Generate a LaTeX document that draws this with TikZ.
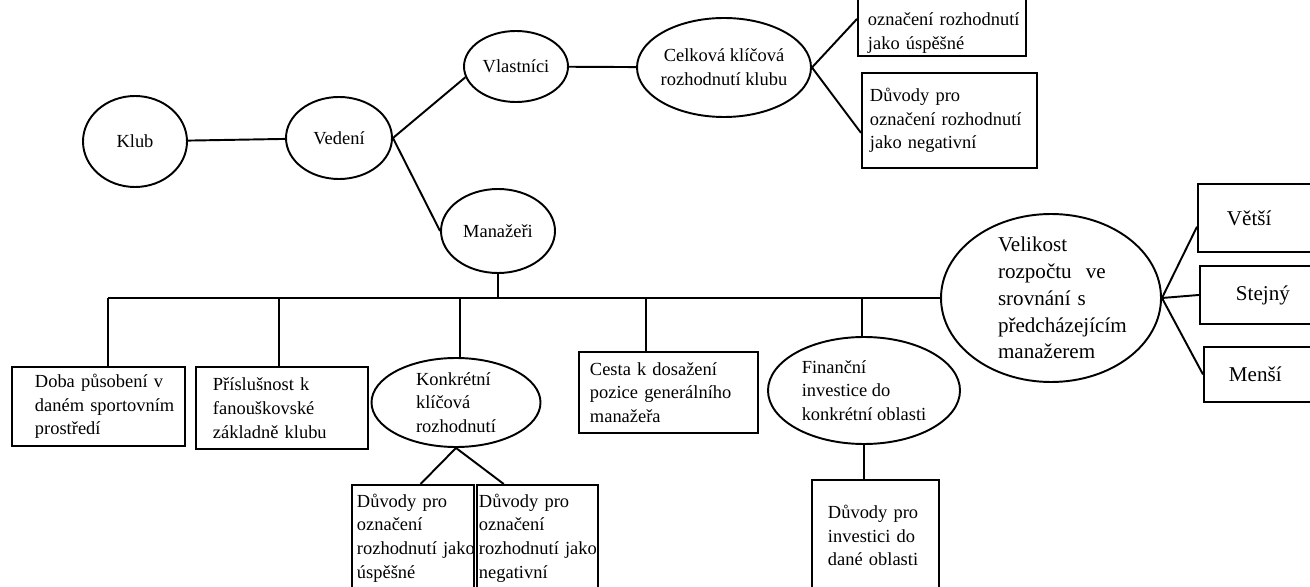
\documentclass[tikz,border=0pt]{standalone}
\usepackage{fontspec}
\setmainfont{Liberation Serif}
\usetikzlibrary{shapes.geometric}

\def\pix{0.02cm}
\newcommand{\fnorm}{\fontsize{10.5}{13.5}\selectfont}
\newcommand{\fbig}{\fontsize{12}{15.3}\selectfont}

\begin{document}
\begin{tikzpicture}[x=\pix, y=-\pix, line width=1.1pt,
    every node/.style={font=\fnorm},
    ell/.style 2 args={draw, ellipse, inner sep=-2pt, align=left,
      minimum width=#1*\pix, minimum height=#2*\pix},
    box/.style n args={3}{draw, rectangle, anchor=north west, inner sep=0pt,
      align=left, text width=#1*\pix, minimum height=#2*\pix,
      execute at begin node={\pgfmathsetlength{\leftskip}{#3*\pix}}}]
  \useasboundingbox (0,0) rectangle (1310,587);

  \node[ell={104}{91}] (klub) at (135,141.5) {Klub};
  \node[ell={106}{82}] (vedeni) at (339,138) {Vedení};
  \node[ell={104}{71}] (vlastnici) at (516,66.5) {Vlastníci};
  \node[ell={174}{99}, align=center] (celkova) at (724,67.5) {Celková klíčová\\rozhodnutí klubu};
  \node[ell={114}{84}] (manazeri) at (498,231) {Manažeři};
  \node[ell={169}{89}] (konkretni) at (456,402.5) {Konkrétní\\klíčová\\rozhodnutí};
  \node[ell={192}{107}] (financni) at (864,390.5) {Finanční\\investice do\\konkrétní oblasti};
  \node[ell={220}{168}, font=\fbig, text width=150*\pix,
    execute at begin node={\pgfmathsetlength{\leftskip}{22*\pix}}] (velikost) at (1051,298)
    {Velikost\\rozpočtu\ \ ve\\srovnání s\\předcházejícím\\manažerem};

  \node[box={168}{74}{10}] (kladne) at (857,-19) {\strut\\označení rozhodnutí\\jako úspěšné};
  \node[box={175}{95}{8}] (zaporne) at (861,72) {Důvody pro\\označení rozhodnutí\\jako negativní};
  \node[box={173}{79}{23}] (doba) at (11,366) {Doba působení v\\daném sportovním\\prostředí};
  \node[box={172}{82}{17}] (prislusnost) at (195,366) {Příslušnost k\\fanouškovské\\základně klubu};
  \node[box={179}{81}{11}] (cesta) at (578,351) {Cesta k dosažení\\pozice generálního\\manažeřa};
  \node[box={122}{106}{5}] (uspesne) at (351,484) {Důvody pro\\označení\\rozhodnutí~jako\\úspěšné};
  \node[box={121}{106}{2}] (negativni) at (476,484) {Důvody pro\\označení\\rozhodnutí~jako\\negativní};
  \node[box={127}{111}{16}] (investice) at (811,479) {Důvody pro\\investici do\\dané oblasti};
  \node[box={140}{68}{29}, font=\fbig] (vetsi) at (1197,183) {Větší};
  \node[box={140}{58}{36}, font=\fbig] (stejny) at (1199,265) {Stejný};
  \node[box={140}{55}{25}, font=\fbig] (mensi) at (1203,346) {Menší};

  \coordinate (b1) at (108,298);
  \coordinate (b2) at (279,298);
  \coordinate (b3) at (460,298);
  \coordinate (b4) at (646,298);
  \coordinate (b5) at (862,298);

  \draw (klub) -- (vedeni);
  \draw (vedeni.east) -- (vlastnici.192);
  \draw (vedeni.east) -- (manazeri.west);
  \draw (vlastnici) -- (celkova);
  \draw (celkova.east) -- (kladne.west);
  \draw (celkova.east) -- (zaporne.188);
  \draw (manazeri.south) -- (manazeri.south |- b1);
  \draw (b1) -- (velikost.west);
  \draw (b1) -- (b1 |- doba.north);
  \draw (b2) -- (b2 |- prislusnost.north);
  \draw (b3) -- (b3 |- konkretni.north);
  \draw (b4) -- (b4 |- cesta.north);
  \draw (b5) -- (b5 |- financni.north);
  \draw (konkretni.south) -- (uspesne.82);
  \draw (konkretni.south) -- (negativni.122);
  \draw (financni.south) -- (financni.south |- investice.north);
  \draw (velikost.east) -- (vetsi.187);
  \draw (velikost.east) -- (stejny.west);
  \draw (velikost.east) -- (mensi.west);
\end{tikzpicture}
\end{document}
